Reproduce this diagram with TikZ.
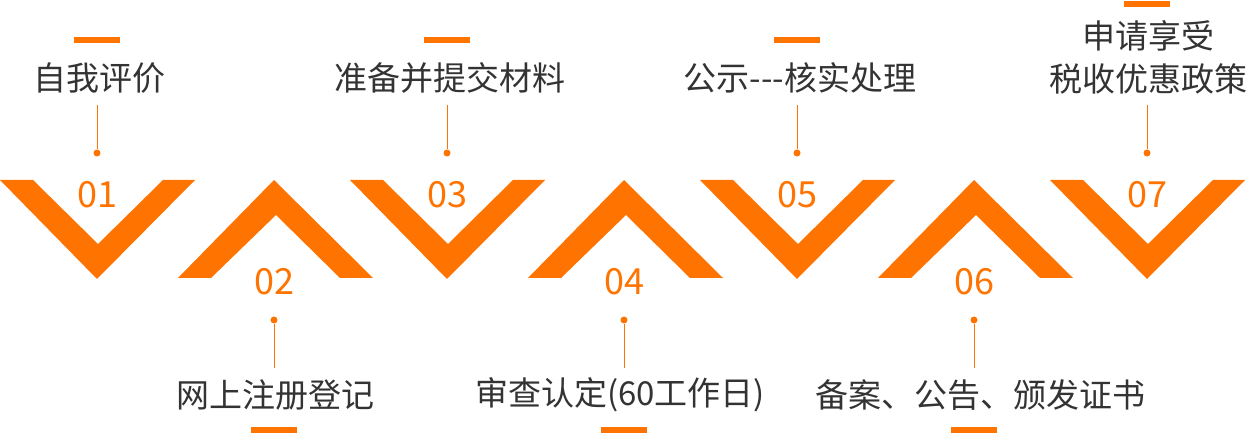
\documentclass[tikz,border=0pt]{standalone}
\usepackage{fontspec}
\setmainfont{Noto Sans CJK SC}
\definecolor{brand}{HTML}{FF7300}
\definecolor{txtgray}{HTML}{333333}
\tikzset{
  vdown/.style={fill=brand},
  steptext/.style={text=txtgray, font=\fontsize{33}{43}\selectfont, inner sep=0pt, align=center},
  numtext/.style={text=brand, font=\fontsize{36}{36}\selectfont, inner sep=0pt},
  bar/.style={brand, line width=6pt},
  stem/.style={brand, line width=1pt},
  dotc/.style={circle, fill=brand, inner sep=0pt, minimum size=7pt}
}
\begin{document}
\begin{tikzpicture}[x=1pt,y=-1pt]
\useasboundingbox (0,0) rectangle (1259,435);
% down chevrons
\foreach \c/\n in {97/01,447/03,797/05,1147/07}{
  \fill[vdown] (\c-97,180) -- (\c-64,180) -- (\c+1,244) -- (\c+66,180) -- (\c+98,180) -- (\c,279) -- cycle;
  \node[numtext] (n\n) at (\c,195) {\n};
  \node[dotc] (d\n) at (\c,153) {};
}
% up chevrons
\foreach \c/\n in {274/02,624/04,974/06}{
  \fill[vdown] (\c-96,278) -- (\c-63,278) -- (\c+2,215) -- (\c+66,278) -- (\c+99,278) -- (\c,180) -- cycle;
  \node[numtext] (n\n) at (\c,282) {\n};
  \node[dotc] (d\n) at (\c,320) {};
}
% top labels
\node[steptext] (t01) at (100,78) {自我评价};
\node[steptext] (t03) at (450,78) {准备并提交材料};
\node[steptext] (t05) at (800,78) {公示{-}{-}{-}核实处理};
\node[steptext] (t07) at (1148,57) {申请享受\\税收优惠政策};
\foreach \n/\c/\b in {01/97/40,03/447/40,05/797/40,07/1147/4}{
  \coordinate (a\n) at (\c,105);
  \draw[stem] (a\n) -- (d\n);
  \draw[bar] (\c-23,\b) -- (\c+23,\b);
}
% bottom labels
\node[steptext] (t02) at (275,395) {网上注册登记};
\node[steptext] (t04) at (620,395) {审查认定(60工作日)};
\node[steptext] (t06) at (980,395) {备案、公告、颁发证书};
\foreach \n/\c in {02/274,04/624,06/974}{
  \coordinate (a\n) at (\c,368);
  \draw[stem] (d\n) -- (a\n);
  \draw[bar] (\c-23,430) -- (\c+23,430);
}
\end{tikzpicture}
\end{document}
